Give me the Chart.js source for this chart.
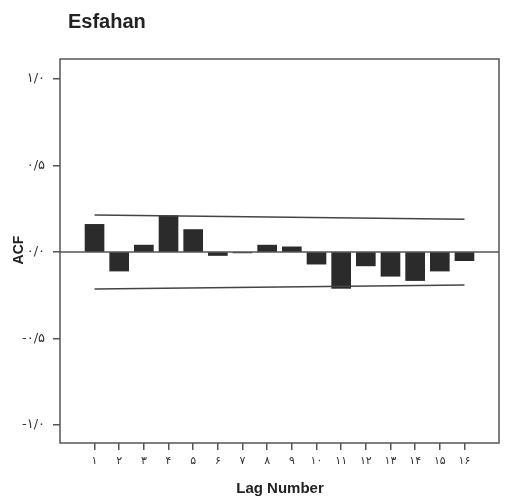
<!DOCTYPE html>
<html>
<head>
<meta charset="utf-8">
<script src="https://cdn.jsdelivr.net/npm/chart.js@4"></script>
<style>
  html, body { margin: 0; padding: 0; background: #fff; }
  #wrap { width: 510px; height: 497px; }
</style>
</head>
<body>
<div id="wrap"><canvas id="acfChart" width="510" height="497"></canvas></div>
<script>
// lags and ACF values
const lags = [1, 2, 3, 4, 5, 6, 7, 8, 9, 10, 11, 12, 13, 14, 15, 16];
const acf = [0.16, -0.11, 0.04, 0.21, 0.13, -0.02, -0.005, 0.04, 0.03, -0.07, -0.21, -0.08, -0.14, -0.165, -0.11, -0.05];
// confidence limits at first and last lag
const upperLimit = [0.214, 0.19];
const lowerLimit = [-0.214, -0.19];
const limitLags = [1, 16];
// tick labels (Persian digits)
const yTicks = [1.0, 0.5, 0.0, -0.5, -1.0];
const yTickLabels = ['۱/۰', '۰/۵', '۰/۰', '-۰/۵', '-۱/۰'];
const xTickLabels = ['۱', '۲', '۳', '۴', '۵', '۶', '۷', '۸', '۹', '۱۰', '۱۱', '۱۲', '۱۳', '۱۴', '۱۵', '۱۶'];

const dark = '#2b2b2b';
const axisGrey = '#555';

// box, zero line and the titles
const frame = {
    id: 'frame',
    beforeDatasetsDraw(chart) {
        const { ctx, chartArea: a, scales } = chart;
        const y0 = scales.y.getPixelForValue(0);
        ctx.save();
        ctx.strokeStyle = axisGrey;
        ctx.lineWidth = 1.5;
        ctx.beginPath();
        ctx.moveTo(a.left, y0);
        ctx.lineTo(a.right, y0);
        ctx.stroke();
        ctx.restore();
    },
    afterDraw(chart) {
        const { ctx, chartArea: a } = chart;
        ctx.save();
        ctx.strokeStyle = axisGrey;
        ctx.lineWidth = 1.5;
        ctx.strokeRect(a.left, a.top, a.right - a.left, a.bottom - a.top);

        ctx.fillStyle = '#222';
        ctx.font = 'bold 20px "Liberation Sans", Arial, sans-serif';
        ctx.textAlign = 'left';
        ctx.textBaseline = 'middle';
        ctx.fillText('Esfahan', 68, 22);

        ctx.font = 'bold 15px "Liberation Sans", Arial, sans-serif';
        ctx.textAlign = 'center';
        ctx.fillText('Lag Number', 280, 489);

        ctx.font = 'bold 14px "Liberation Sans", Arial, sans-serif';
        ctx.translate(19, 250);
        ctx.rotate(-Math.PI / 2);
        ctx.fillText('ACF', 0, 0);
        ctx.restore();
    }
};

const ctx = document.getElementById('acfChart').getContext('2d');
const acfChart = new Chart(ctx, {
    type: 'bar',
    data: {
        datasets: [{
            label: 'ACF',
            data: lags.map((l, i) => ({ x: l, y: acf[i] })),
            backgroundColor: dark,
            borderWidth: 0,
            barThickness: 19,
            order: 2
        }, {
            type: 'line',
            label: 'Upper Confidence Limit',
            data: limitLags.map((l, i) => ({ x: l, y: upperLimit[i] })),
            borderColor: '#444',
            borderWidth: 1.5,
            pointRadius: 0,
            order: 1
        }, {
            type: 'line',
            label: 'Lower Confidence Limit',
            data: limitLags.map((l, i) => ({ x: l, y: lowerLimit[i] })),
            borderColor: '#444',
            borderWidth: 1.5,
            pointRadius: 0,
            order: 1
        }]
    },
    options: {
        responsive: false,
        animation: false,
        layout: { padding: { top: 59, right: 11, left: 0, bottom: 0 } },
        plugins: { legend: { display: false }, tooltip: { enabled: false } },
        scales: {
            x: {
                type: 'linear',
                offset: false,
                min: -0.4,
                max: 17.4,
                afterBuildTicks(scale) {
                    scale.ticks = lags.map(v => ({ value: v }));
                },
                afterFit(scale) { scale.height = 54; },
                grid: { offset: false, drawOnChartArea: false, drawTicks: true, tickLength: 7, color: axisGrey, lineWidth: 1.5 },
                border: { display: false },
                ticks: {
                    callback: (v) => xTickLabels[lags.indexOf(v)],
                    color: '#333',
                    font: { family: 'DejaVu Sans', size: 11 },
                    padding: 5,
                    maxRotation: 0,
                    autoSkip: false
                }
            },
            y: {
                min: -1.104,
                max: 1.116,
                afterBuildTicks(scale) {
                    scale.ticks = yTicks.map(v => ({ value: v }));
                },
                afterFit(scale) { scale.width = 60; },
                grid: { drawOnChartArea: false, drawTicks: true, tickLength: 7, color: axisGrey, lineWidth: 1.5 },
                border: { display: false },
                ticks: {
                    callback: (v) => yTickLabels[yTicks.indexOf(v)],
                    color: '#333',
                    font: { family: 'DejaVu Sans', size: 13 },
                    padding: 8
                }
            }
        }
    },
    plugins: [frame]
});
</script>
</body>
</html>
